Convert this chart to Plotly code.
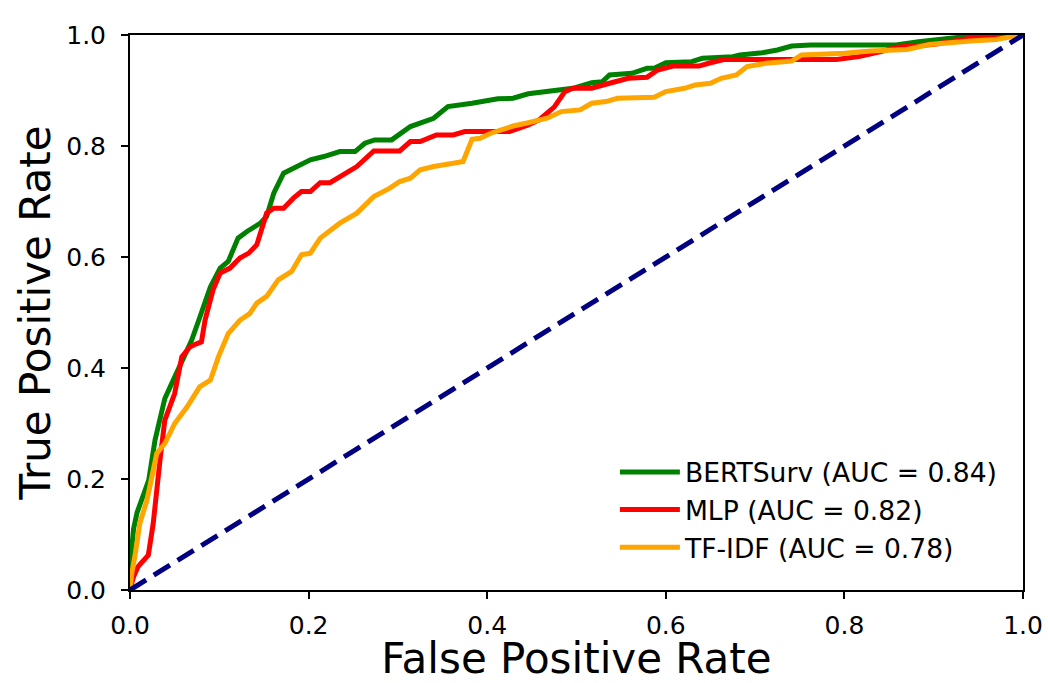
import plotly.graph_objects as go

# BERTSurv (AUC = 0.84)
bert_fpr = [0.0, 0.001, 0.004, 0.008, 0.017, 0.021, 0.028, 0.039, 0.045, 0.060, 0.069, 0.077,
            0.084, 0.090, 0.101, 0.110, 0.121, 0.131, 0.146, 0.153, 0.161, 0.172, 0.187, 0.202,
            0.217, 0.235, 0.252, 0.263, 0.274, 0.293, 0.314, 0.340, 0.356, 0.366, 0.383, 0.412,
            0.429, 0.446, 0.479, 0.496, 0.517, 0.529, 0.537, 0.562, 0.579, 0.587, 0.600, 0.629,
            0.641, 0.675, 0.683, 0.708, 0.725, 0.741, 0.762, 0.858, 0.883, 0.912, 0.941, 0.983, 1.0]
bert_tpr = [0.0, 0.06, 0.11, 0.14, 0.18, 0.198, 0.27, 0.345, 0.366, 0.42, 0.45, 0.486,
            0.52, 0.546, 0.58, 0.592, 0.634, 0.646, 0.661, 0.673, 0.715, 0.751, 0.763, 0.775,
            0.781, 0.79, 0.79, 0.805, 0.811, 0.811, 0.835, 0.85, 0.871, 0.874, 0.877, 0.885,
            0.886, 0.894, 0.900, 0.904, 0.914, 0.916, 0.928, 0.931, 0.940, 0.940, 0.950, 0.952,
            0.958, 0.961, 0.964, 0.968, 0.973, 0.980, 0.982, 0.982, 0.988, 0.993, 0.998, 1.0, 1.0]

# MLP (AUC = 0.82)
mlp_fpr = [0.0, 0.004, 0.009, 0.0205, 0.026, 0.030, 0.034, 0.039, 0.050, 0.058, 0.067, 0.075,
           0.080, 0.084, 0.093, 0.101, 0.112, 0.123, 0.133, 0.142, 0.153, 0.161, 0.172, 0.183,
           0.192, 0.202, 0.213, 0.224, 0.243, 0.254, 0.273, 0.302, 0.314, 0.325, 0.343, 0.362,
           0.375, 0.425, 0.446, 0.458, 0.475, 0.487, 0.496, 0.517, 0.537, 0.558, 0.579, 0.591,
           0.608, 0.637, 0.650, 0.666, 0.791, 0.816, 0.841, 0.858, 0.899, 0.941, 0.974, 1.0]
mlp_tpr = [0.0, 0.024, 0.042, 0.063, 0.12, 0.186, 0.24, 0.306, 0.354, 0.42, 0.438, 0.444,
           0.447, 0.486, 0.541, 0.571, 0.58, 0.598, 0.607, 0.622, 0.679, 0.688, 0.688, 0.706,
           0.718, 0.718, 0.734, 0.734, 0.754, 0.763, 0.791, 0.791, 0.808, 0.808, 0.820, 0.820,
           0.826, 0.826, 0.838, 0.847, 0.870, 0.898, 0.904, 0.904, 0.913, 0.922, 0.924, 0.937,
           0.944, 0.944, 0.950, 0.956, 0.956, 0.961, 0.970, 0.978, 0.983, 0.994, 0.998, 1.0]

# TF-IDF (AUC = 0.78)
tfidf_fpr = [0.0, 0.002, 0.006, 0.011, 0.019, 0.024, 0.030, 0.039, 0.050, 0.064, 0.078, 0.090,
             0.099, 0.110, 0.123, 0.134, 0.142, 0.153, 0.166, 0.181, 0.192, 0.202, 0.213, 0.235,
             0.254, 0.273, 0.291, 0.302, 0.314, 0.325, 0.340, 0.362, 0.373, 0.383, 0.392, 0.404,
             0.429, 0.446, 0.467, 0.483, 0.504, 0.517, 0.533, 0.546, 0.587, 0.600, 0.621, 0.633,
             0.650, 0.662, 0.679, 0.691, 0.712, 0.741, 0.752, 0.800, 0.829, 0.870, 0.895, 0.941,
             0.970, 0.991, 1.0]
tfidf_tpr = [0.0, 0.03, 0.066, 0.12, 0.162, 0.204, 0.246, 0.264, 0.300, 0.330, 0.366, 0.378,
             0.420, 0.462, 0.486, 0.498, 0.517, 0.529, 0.559, 0.574, 0.604, 0.607, 0.634, 0.661,
             0.679, 0.709, 0.724, 0.736, 0.742, 0.757, 0.763, 0.769, 0.772, 0.812, 0.814, 0.823,
             0.836, 0.842, 0.850, 0.862, 0.865, 0.877, 0.880, 0.886, 0.888, 0.898, 0.904, 0.910,
             0.913, 0.922, 0.928, 0.943, 0.949, 0.953, 0.964, 0.967, 0.971, 0.974, 0.983, 0.989,
             0.992, 0.998, 1.0]

chance = [0.0, 1.0]

series_names = ["BERTSurv (AUC = 0.84)", "MLP (AUC = 0.82)", "TF-IDF (AUC = 0.78)"]
series_colors = ["#008000", "#ff0000", "#ffa500"]
tick_vals = [0.0, 0.2, 0.4, 0.6, 0.8, 1.0]
tick_text = ["0.0", "0.2", "0.4", "0.6", "0.8", "1.0"]

FONT = "DejaVu Sans"

fig = go.Figure()
for i, (xs, ys) in enumerate([(bert_fpr, bert_tpr), (mlp_fpr, mlp_tpr), (tfidf_fpr, tfidf_tpr)]):
    fig.add_trace(go.Scatter(x=xs, y=ys, mode="lines", name=series_names[i],
                             line=dict(color=series_colors[i], width=5),
                             legendgroup=f"g{i}"))
fig.add_trace(go.Scatter(x=chance, y=chance, mode="lines", showlegend=False,
                         line=dict(color="#000080", width=5, dash="19px,9px")))

axis_common = dict(range=[0, 1], showgrid=False, zeroline=False, showline=True,
                   mirror=True, linecolor="black", linewidth=2, ticks="outside",
                   ticklen=7, tickwidth=2, tickcolor="black",
                   tickvals=tick_vals, ticktext=tick_text,
                   automargin=False, ticklabeloverflow="allow",
                   tickfont=dict(family=FONT, size=25, color="black"))

fig.update_layout(
    width=1048, height=683,
    paper_bgcolor="white", plot_bgcolor="white",
    margin=dict(l=130, r=25, t=35, b=93, autoexpand=False),
    font=dict(family=FONT, color="black"),
    xaxis=dict(**axis_common, ticklabelstandoff=5,
               title=dict(text="False Positive Rate",
                          font=dict(family=FONT, size=42), standoff=1)),
    yaxis=dict(**axis_common, ticklabelstandoff=10,
               title=dict(text="True Positive Rate",
                          font=dict(family=FONT, size=42), standoff=3)),
    legend=dict(x=0.543, y=0.2554, xanchor="left", yanchor="top",
                bgcolor="rgba(0,0,0,0)", borderwidth=0,
                font=dict(family=FONT, size=26.6, color="black"),
                tracegroupgap=0, itemwidth=60),
)

# remove the default page margin so the 1048x683 figure fills the window exactly
fig.write_html("out.html", config={"displayModeBar": False},
               post_script="document.body.style.margin='0';")
